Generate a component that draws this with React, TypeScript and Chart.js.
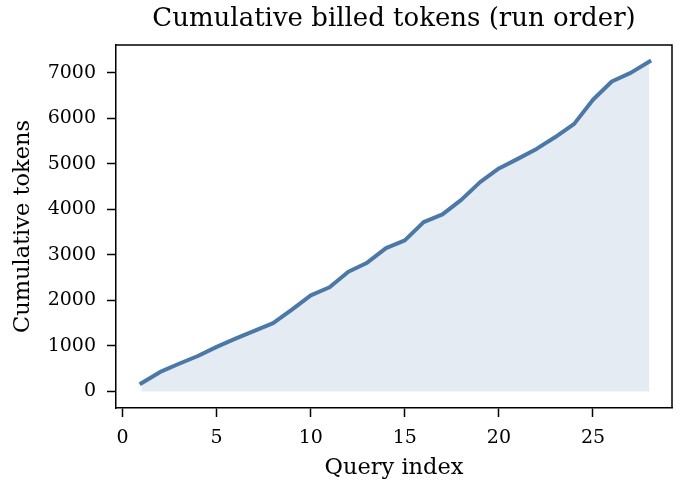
import React, { useEffect, useRef } from "react";
import { Chart, registerables } from "chart.js";

Chart.register(...registerables);

const queryIndex = [1, 2, 3, 4, 5, 6, 7, 8, 9, 10, 11, 12, 13, 14, 15, 16, 17, 18, 19, 20, 21, 22, 23, 24, 25, 26, 27, 28];
const cumulativeTokens = [180, 430, 610, 780, 980, 1160, 1330, 1500, 1800, 2110, 2290, 2630, 2830, 3150, 3320, 3720, 3890, 4210, 4600, 4900, 5110, 5330, 5590, 5880, 6410, 6810, 7000, 7250];
const xTickValues = [0, 5, 10, 15, 20, 25];
const yTickValues = [0, 1000, 2000, 3000, 4000, 5000, 6000, 7000];

const titleText = "Cumulative billed tokens (run order)";
const xLabel = "Query index";
const yLabel = "Cumulative tokens";

const FONT = "'DejaVu Serif', serif";
const LINE = "#4c78a8";
const FILL = "rgba(76,120,168,0.15)";

const framePlugin = {
  id: "frame",
  afterDraw(chart: any) {
    const { ctx, chartArea } = chart;
    ctx.save();
    ctx.strokeStyle = "#000";
    ctx.lineWidth = 1.5;
    ctx.beginPath();
    ctx.moveTo(chartArea.left, chartArea.top);
    ctx.lineTo(chartArea.right, chartArea.top);
    ctx.lineTo(chartArea.right, chartArea.bottom);
    ctx.stroke();
    ctx.restore();
  },
};

export default function App() {
  const ref = useRef<HTMLCanvasElement | null>(null);

  useEffect(() => {
    if (!ref.current) return;
    const chart = new Chart(ref.current, {
      type: "line",
      data: {
        datasets: [
          {
            data: queryIndex.map((x, i) => ({ x, y: cumulativeTokens[i] })),
            borderColor: LINE,
            backgroundColor: FILL,
            borderWidth: 4,
            borderCapStyle: "square",
            borderJoinStyle: "round",
            pointRadius: 0,
            tension: 0,
            fill: "origin",
          },
        ],
      },
      options: {
        animation: false,
        responsive: false,
        devicePixelRatio: 1,
        layout: { padding: { left: 0, right: 10, top: 0, bottom: 0 } },
        plugins: {
          legend: { display: false },
          tooltip: { enabled: false },
          title: {
            display: true,
            text: titleText,
            fullSize: false,
            color: "#000",
            font: { family: FONT, size: 26, weight: "normal", lineHeight: 1.2 },
            padding: { top: 3.6, bottom: 10.2 },
          },
        },
        scales: {
          x: {
            type: "linear",
            min: -0.35,
            max: 29.2,
            afterBuildTicks: (scale: any) => {
              scale.ticks = xTickValues.map((v) => ({ value: v }));
            },
            afterFit: (scale: any) => {
              scale.height = 76;
            },
            grid: {
              drawOnChartArea: false,
              drawTicks: true,
              tickLength: 9,
              tickWidth: 1.5,
              tickColor: "#000",
            },
            border: { display: true, color: "#000", width: 1.5 },
            ticks: {
              color: "#000",
              font: { family: FONT, size: 19 },
              padding: 9.4,
              maxRotation: 0,
              autoSkip: false,
              callback: (v: any) => String(v),
            },
            title: {
              display: true,
              text: xLabel,
              color: "#000",
              font: { family: FONT, size: 22.5, lineHeight: 1.2 },
              padding: { top: 0, bottom: 2.5 },
            },
          },
          y: {
            type: "linear",
            min: -362.5,
            max: 7612.5,
            afterBuildTicks: (scale: any) => {
              scale.ticks = yTickValues.map((v) => ({ value: v }));
            },
            afterFit: (scale: any) => {
              scale.width = 116;
            },
            grid: {
              drawOnChartArea: false,
              drawTicks: true,
              tickLength: 9,
              tickWidth: 1.5,
              tickColor: "#000",
            },
            border: { display: true, color: "#000", width: 1.5 },
            ticks: {
              color: "#000",
              font: { family: FONT, size: 19 },
              padding: 11,
              autoSkip: false,
              callback: (v: any) => String(v),
            },
            title: {
              display: true,
              text: yLabel,
              color: "#000",
              font: { family: FONT, size: 22.5, lineHeight: 1.2 },
              padding: { top: 9.5, bottom: 0 },
            },
          },
        },
      },
      plugins: [framePlugin],
    } as any);
    return () => chart.destroy();
  }, []);

  return (
    <div style={{ position: "fixed", left: 0, top: 0, width: 682, height: 484, background: "#fff" }}>
      <canvas ref={ref} width={682} height={484} style={{ width: 682, height: 484 }} />
    </div>
  );
}
